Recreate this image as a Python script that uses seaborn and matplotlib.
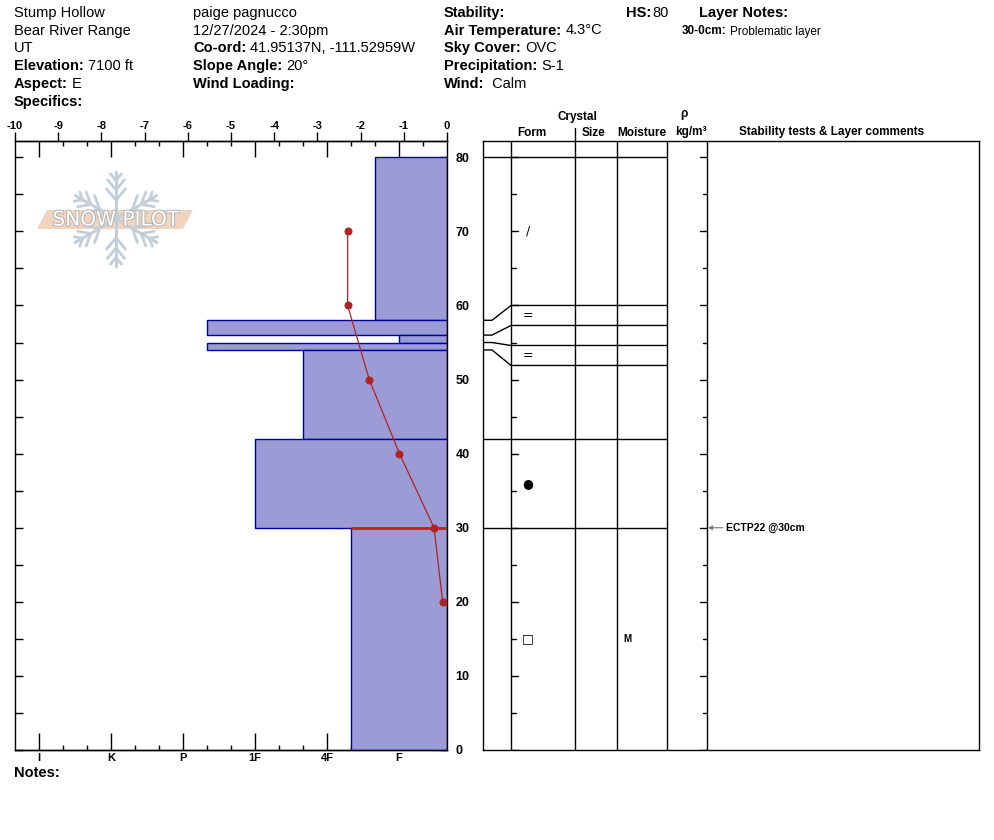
import numpy as np
import pandas as pd
import matplotlib
matplotlib.use('Agg')
import matplotlib.pyplot as plt
import matplotlib.patheffects as pe
from matplotlib.patches import Polygon
import seaborn as sns

# ---- pit data ----
layer_top = [80, 58, 56, 55, 54, 42, 30]
layer_bottom = [58, 56, 55, 54, 42, 30, 0]
layer_hardness = ['F+', 'P-', 'F', 'P-', '4F+', '1F', '4F-']
# layer boundaries as spread out in the crystal columns
shown_top = [80, 60, 57.3, 54.6, 51.9, 42, 30]
shown_bottom = [60, 57.3, 54.6, 51.9, 42, 30, 0]
grain_form = ['/', '=', '', '=', '', '\u25cf', '\u25a1']
moisture = ['', '', '', '', '', '', 'M']

temp_depth = [70, 60, 50, 40, 30, 20]
temp_c = [-2.3, -2.3, -1.8, -1.1, -0.3, -0.1]

hardness_names = ['I', 'K', 'P', '1F', '4F', 'F']
temp_ticks = list(range(-10, 1))

test_depth = [30]
test_label = ['ECTP22 @30cm']
problem_top = 30

# header info
site = ['Stump Hollow', 'Bear River Range', 'UT']
col1_fields = [('Elevation:', '7100 ft'), ('Aspect:', 'E'), ('Specifics:', '')]
col2_plain = ['paige pagnucco', '12/27/2024 - 2:30pm']
col2_fields = [('Co-ord:', '41.95137N, -111.52959W'), ('Slope Angle:', '20\u00b0'),
               ('Wind Loading:', '')]
col3_fields = [('Stability:', ''), ('Air Temperature:', '4.3\u00b0C'), ('Sky Cover:', 'OVC'),
               ('Precipitation:', 'S-1'), ('Wind:', ' Calm')]

sns.set_theme(style='ticks', rc={'axes.edgecolor': 'black', 'xtick.color': 'black',
                                 'ytick.color': 'black', 'text.color': 'black',
                                 'axes.linewidth': 1})
plt.rcParams['font.family'] = ['Liberation Sans', 'DejaVu Sans']

W, H = 994, 840
YTOP = 82.2  # depth at the top frame


def px_rect(x0, y0, x1, y1):
    return [x0 / W, 1 - y1 / H, (x1 - x0) / W, (y1 - y0) / H]


base = {'F': 2, '4F': 5, '1F': 8, 'P': 11, 'K': 14, 'I': 17}


def hx(code):
    b = code.rstrip('+-')
    n = base[b] + (1 if code.endswith('+') else -1 if code.endswith('-') else 0)
    return -n * 10 / 18


df = pd.DataFrame({'top': layer_top, 'bottom': layer_bottom, 'hardness': layer_hardness})
df['x'] = df.hardness.map(hx)

fig = plt.figure(figsize=(W / 100, H / 100), dpi=100)

# ---- hardness / temperature profile ----
ax = fig.add_axes(px_rect(15, 141, 447, 750))
ax.barh(df.bottom, df.x, height=df.top - df.bottom, left=0, align='edge',
        color='#9b9bd6', edgecolor='#0000a0', linewidth=1, zorder=2)
px = df.loc[df.top == problem_top, 'x'].iloc[0]
ax.hlines(problem_top, px, 0, colors='#cc2020', linewidth=2, zorder=3)
sns.lineplot(x=temp_c, y=temp_depth, orient='y', estimator=None, sort=False,
             marker='o', markersize=5, color='#b22222', markeredgecolor='#b22222',
             linewidth=0.9, ax=ax, zorder=4)
ax.set_xlim(-10, 0)
ax.set_ylim(0, YTOP)
ax.set_xlabel('')
ax.set_ylabel('')

ax.set_xticks(temp_ticks, labels=[str(t) for t in temp_ticks])
ax.xaxis.tick_top()
ax.tick_params(axis='x', direction='out', length=6.5, width=1, labelsize=8, pad=1)
for lbl in ax.get_xticklabels():
    lbl.set_fontweight('bold')

ax.set_yticks(range(0, 81, 10))
ax.set_yticks(range(5, 80, 10), minor=True)
ax.tick_params(axis='y', which='both', direction='in', left=True, right=True,
               labelleft=False, labelright=True, length=5.5, width=1, labelsize=9, pad=6)
for lbl in ax.get_yticklabels():
    lbl.set_fontweight('bold')

major_h = [hx(n) for n in hardness_names]
minor_h = [-n * 10 / 18 for n in range(1, 18) if n not in base.values()]
sb = ax.secondary_xaxis('bottom')
sb.set_xticks(major_h, labels=hardness_names)
sb.set_xticks(minor_h, minor=True)
sb.tick_params(which='major', direction='in', length=12.5, width=1, labelsize=8, pad=2.5)
sb.tick_params(which='minor', direction='in', length=3.6, width=1)
for lbl in sb.get_xticklabels():
    lbl.set_fontweight('bold')
st = ax.secondary_xaxis('top')
st.set_xticks(major_h, labels=[''] * len(major_h))
st.set_xticks(minor_h, minor=True)
st.tick_params(which='major', direction='in', length=11.5, width=1)
st.tick_params(which='minor', direction='in', length=3.6, width=1)

# ---- crystal / comments table ----
ax2 = fig.add_axes(px_rect(483, 141, 979, 750))
ax2.set_xlim(483, 979)
ax2.set_ylim(0, YTOP)
ax2.set_xticks([])
ax2.set_yticks([])
for s in ax2.spines.values():
    s.set_linewidth(1)
kw = dict(color='black', linewidth=1)
for cx in [511, 575, 617, 667, 707]:
    ax2.plot([cx, cx], [0, YTOP], **kw)
ax2.plot([575, 575], [YTOP, YTOP + 13 / 7.41], clip_on=False, **kw)
ax2.plot([483, 667], [layer_top[0], layer_top[0]], **kw)
for d, dd in zip(layer_bottom[:-1], shown_bottom[:-1]):
    ax2.plot([483, 492, 511, 667], [d, d, dd, dd], **kw)
for d in range(0, 81, 5):
    ln = 7 if d % 10 == 0 else 4.5
    ax2.plot([511, 511 + ln], [d, d], **kw)
    ax2.plot([707 - ln, 707], [d, d], **kw)
for t, b, g, m in zip(shown_top, shown_bottom, grain_form, moisture):
    mid = (t + b) / 2
    if g:
        ax2.text(528, mid, g, ha='center', va='center', fontsize=9,
                 family=['DejaVu Sans'])
    if m:
        ax2.text(627, mid, m, ha='center', va='center', fontsize=7, weight='bold')
for d, lab in zip(test_depth, test_label):
    ax2.annotate(lab, xy=(708, d), xytext=(726, d), ha='left', va='center',
                 fontsize=7.5, weight='bold',
                 arrowprops=dict(arrowstyle='-|>', color='#777777', lw=0.8,
                                 shrinkA=0, shrinkB=0, mutation_scale=6))

for x, y, s in [(577, 117, 'Crystal'), (532, 132.5, 'Form'), (593.5, 132.5, 'Size'),
                (641.5, 132.5, 'Moisture'), (683.5, 114, '\u03c1'), (690.5, 131.5, 'kg/m\u00b3'),
                (832, 132.5, 'Stability tests & Layer comments')]:
    fig.text(x / W, 1 - y / H, s, ha='center', va='center', fontsize=8.5, weight='bold')

# ---- header ----
def field(x, y, label, value, size=10.5, gap=4):
    t = fig.text(x / W, 1 - y / H, label, fontsize=size, weight='bold', va='center')
    if value:
        ax.annotate(value, xy=(1, 0.5), xycoords=t, xytext=(gap, 0),
                    textcoords='offset pixels', va='center', fontsize=size,
                    annotation_clip=False)


rows = [12.7 + 17.8 * i for i in range(6)]
for i, s in enumerate(site):
    fig.text(14 / W, 1 - rows[i] / H, s, fontsize=10.5, va='center')
for i, (lab, val) in enumerate(col1_fields):
    field(14, rows[3 + i], lab, val)
for i, s in enumerate(col2_plain):
    fig.text(193 / W, 1 - rows[i] / H, s, fontsize=10.5, va='center')
for i, (lab, val) in enumerate(col2_fields):
    field(193, rows[2 + i], lab, val)
for i, (lab, val) in enumerate(col3_fields):
    field(444, rows[i], lab, val)
field(626, rows[0], 'HS:', str(layer_top[0]), gap=1)
field(699, rows[0], 'Layer Notes:', '')
field(682, 31.5, '30-0cm:', 'Problematic layer', size=8.5, gap=3)
field(14, 773, 'Notes:', '')

# ---- watermark logo ----
lg = fig.add_axes(px_rect(30, 165, 200, 272))
lg.set_xlim(30, 200)
lg.set_ylim(272, 165)
lg.axis('off')
lg.patch.set_alpha(0)
cx, cy, R = 116, 219, 47
fc = '#c3ced8'
for ang in np.deg2rad(np.arange(90, 450, 60)):
    ux, uy = np.cos(ang), -np.sin(ang)
    lg.plot([cx, cx + R * ux], [cy, cy + R * uy], color=fc, lw=2.2, solid_capstyle='round')
    for f, bl in [(0.4, 0.32), (0.62, 0.28), (0.82, 0.18)]:
        px0, py0 = cx + f * R * ux, cy + f * R * uy
        for s in (1, -1):
            a2 = ang + s * np.deg2rad(40)
            lg.plot([px0, px0 + bl * R * np.cos(a2)], [py0, py0 - bl * R * np.sin(a2)],
                    color=fc, lw=2, solid_capstyle='round')
lg.add_patch(Polygon([(37, 229), (47, 210), (193, 210), (183, 229)], closed=True,
                     facecolor='#f0d0b8', edgecolor='none', alpha=0.9))
lg.text(116, 220, 'SNOW PILOT', ha='center', va='center', fontsize=14.5, color='white',
        family=['DejaVu Sans'],
        path_effects=[pe.withStroke(linewidth=1.5, foreground='#b5b5b5')])

fig.savefig('out.png', dpi=100)
